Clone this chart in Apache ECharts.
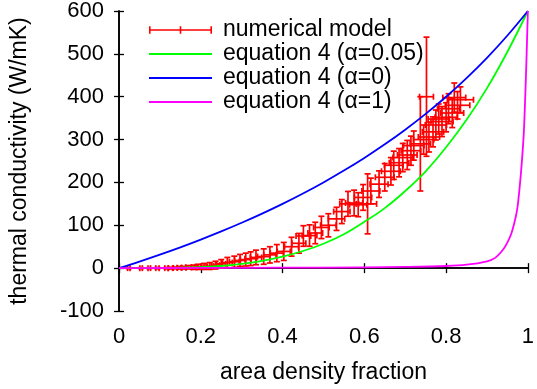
<!DOCTYPE html>
<html>
<head>
<meta charset="utf-8">
<script src="https://cdn.jsdelivr.net/npm/echarts@6/dist/echarts.min.js"></script>
<style>
  html, body { margin: 0; padding: 0; background: #fff; }
  #chart { width: 537px; height: 389px; }
</style>
</head>
<body>
<div id="chart"></div>
<script>
// numerical model: x, y, x error, y error
var modelX = [0.024, 0.054, 0.074, 0.094, 0.116, 0.126, 0.138, 0.148, 0.158, 0.17,
  0.184, 0.194, 0.208, 0.222, 0.236, 0.25, 0.265, 0.282, 0.296, 0.31,
  0.322, 0.335, 0.354, 0.369, 0.386, 0.403, 0.422, 0.44, 0.451, 0.466,
  0.48, 0.495, 0.512, 0.532, 0.545, 0.56, 0.575, 0.585, 0.597, 0.608,
  0.616, 0.636, 0.65, 0.665, 0.672, 0.685, 0.694, 0.705, 0.714, 0.721,
  0.737, 0.745, 0.752, 0.758, 0.768, 0.775, 0.782, 0.79, 0.8, 0.806,
  0.815, 0.82, 0.828, 0.835];
var modelY = [0, 0, 0, 0, 0, 0, 0.5, 1, 1, 2,
  2, 3, 4, 5, 7, 10, 13, 15, 18, 20,
  22, 25, 27, 31, 35, 39, 50, 58, 75, 76,
  82, 95, 100, 115, 132, 150, 152, 148, 165, 150,
  180, 196, 212, 226, 240, 246, 258, 264, 274, 286,
  290, 300, 400, 306, 318, 334, 348, 342, 352, 372,
  362, 398, 380, 393];
var modelXErr = [0.003, 0.003, 0.003, 0.004, 0.004, 0.005, 0.005, 0.006, 0.006, 0.007,
  0.007, 0.008, 0.008, 0.009, 0.01, 0.011, 0.012, 0.012, 0.013, 0.013,
  0.014, 0.014, 0.015, 0.015, 0.016, 0.016, 0.017, 0.017, 0.018, 0.018,
  0.018, 0.019, 0.019, 0.02, 0.02, 0.02, 0.021, 0.021, 0.021, 0.022,
  0.022, 0.022, 0.023, 0.023, 0.023, 0.024, 0.024, 0.024, 0.024, 0.025,
  0.025, 0.025, 0.017, 0.026, 0.026, 0.026, 0.026, 0.027, 0.027, 0.027,
  0.028, 0.028, 0.03, 0.032];
var modelYErr = [1, 1, 1, 1.5, 1.5, 2, 2, 3, 3, 4,
  5, 6, 7, 8, 9, 10, 12, 13, 14, 15,
  16, 17, 18, 19, 20, 21, 22, 23, 24, 25,
  25, 26, 27, 27, 28, 29, 30, 28, 30, 70,
  30, 31, 32, 32, 33, 33, 33, 34, 34, 34,
  110, 34, 139, 35, 35, 35, 35, 35, 34, 35,
  34, 34, 32, 30];

// equation 4 curves, sampled
var eqX = [0, 0.05, 0.1, 0.15, 0.2, 0.25, 0.3, 0.35, 0.4, 0.45, 0.5,
  0.55, 0.6, 0.65, 0.7, 0.75, 0.8, 0.85, 0.9, 0.95, 1];
var eqA005 = [0, 0, 0.3, 1, 2.5, 5, 10, 17, 27, 40, 57,
  79, 108, 140, 180, 226, 282, 346, 420, 505, 600];
var eqA0 = [0, 15.4, 31.6, 48.6, 66.7, 85.7, 105.9, 127.3, 150, 174.2, 200,
  227.6, 257.1, 288.9, 323.1, 360, 400, 443.5, 490.9, 542.9, 600];
var eqA1X = [0, 0.2, 0.4, 0.6, 0.7, 0.8, 0.85, 0.9, 0.92, 0.94, 0.95,
  0.96, 0.97, 0.975, 0.98, 0.985, 0.99, 0.995, 0.998, 1];
var eqA1 = [0, 0.5, 1, 2, 3, 5, 8, 16, 24, 44, 60,
  82, 118, 145, 190, 245, 315, 440, 535, 600];

var xTicks = [0, 0.2, 0.4, 0.6, 0.8, 1];

var font = 'Liberation Sans';
var chart = echarts.init(document.getElementById('chart'));

function pairs(xs, ys) {
  var out = [];
  for (var i = 0; i < xs.length; i++) out.push([xs[i], ys[i]]);
  return out;
}

var modelData = [];
for (var i = 0; i < modelX.length; i++) {
  modelData.push([modelX[i], modelY[i], modelXErr[i], modelYErr[i]]);
}

function errBar(params, api) {
  var x = api.value(0), y = api.value(1), dx = api.value(2), dy = api.value(3);
  var c = api.coord([x, y]);
  var l = api.coord([x - dx, y])[0];
  var r = api.coord([x + dx, y])[0];
  var t = api.coord([x, y + dy])[1];
  var b = api.coord([x, y - dy])[1];
  var cap = 3;
  var st = { stroke: '#ff0000', lineWidth: 1.7 };
  function seg(x1, y1, x2, y2) {
    return { type: 'line', shape: { x1: x1, y1: y1, x2: x2, y2: y2 }, style: st };
  }
  return {
    type: 'group',
    children: [
      seg(l, c[1], r, c[1]),
      seg(l, c[1] - cap, l, c[1] + cap),
      seg(r, c[1] - cap, r, c[1] + cap),
      seg(c[0], t, c[0], b),
      seg(c[0] - cap, t, c[0] + cap, t),
      seg(c[0] - cap, b, c[0] + cap, b)
    ]
  };
}

var lineIcon = 'path://M0,0h63v2h-63z';
var barIcon = 'path://M0,3h63v1.6h-63z M0,0h1.6v7.6h-1.6z M30.7,0h1.6v7.6h-1.6z M61.4,0h1.6v7.6h-1.6z';

var axisLine = { show: true, lineStyle: { color: '#000', width: 1.6 } };
var tick = { show: true, inside: true, length: 5, lineStyle: { color: '#000', width: 1.3 } };

var option = {
  animation: false,
  backgroundColor: '#fff',
  grid: { left: 116, right: 9, top: 9, bottom: 77, containLabel: false },
  legend: {
    orient: 'vertical',
    left: 144,
    top: 13,
    itemWidth: 63,
    itemHeight: 8,
    itemGap: 0,
    selectedMode: false,
    itemStyle: { borderWidth: 0 },
    textStyle: { fontFamily: font, fontSize: 23, color: '#000', lineHeight: 24, padding: [0, 0, 0, 6] },
    data: [
      { name: 'numerical model', icon: barIcon },
      { name: 'equation 4 (α=0.05)', icon: lineIcon },
      { name: 'equation 4 (α=0)', icon: lineIcon },
      { name: 'equation 4 (α=1)', icon: lineIcon }
    ]
  },
  xAxis: [{
    type: 'value', min: 0, max: 1, interval: 0.2,
    name: 'area density fraction', nameLocation: 'middle', nameGap: 50,
    nameTextStyle: { fontFamily: font, fontSize: 23, color: '#000' },
    axisLine: axisLine, axisTick: tick, splitLine: { show: false },
    axisLabel: {
      fontFamily: font, fontSize: 22, color: '#000', margin: 15,
      formatter: function (v) { return xTicks.indexOf(Math.round(v * 10) / 10) >= 0 ? String(Math.round(v * 10) / 10) : ''; }
    }
  }, {
    type: 'value', position: 'top', min: 0, max: 1, interval: 0.2,
    axisLine: axisLine, axisTick: tick, axisLabel: { show: false }, splitLine: { show: false }
  }],
  yAxis: [{
    type: 'value', min: -100, max: 600, interval: 100,
    name: 'thermal conductivity (W/mK)', nameLocation: 'middle', nameGap: 88,
    nameTextStyle: { fontFamily: font, fontSize: 23, color: '#000' },
    axisLine: axisLine, axisTick: tick, splitLine: { show: false },
    axisLabel: { fontFamily: font, fontSize: 22, color: '#000', margin: 15 }
  }, {
    type: 'value', position: 'right', min: -100, max: 600, interval: 100,
    axisLine: axisLine, axisTick: tick, axisLabel: { show: false }, splitLine: { show: false }
  }],
  series: [
    {
      name: 'numerical model', type: 'custom', renderItem: errBar,
      itemStyle: { color: '#ff0000' }, data: modelData, clip: true
    },
    {
      name: 'equation 4 (α=0.05)', type: 'line', data: pairs(eqX, eqA005),
      showSymbol: false, smooth: 0.4, color: '#00ff00',
      lineStyle: { color: '#00ff00', width: 1.8 }
    },
    {
      name: 'equation 4 (α=0)', type: 'line', data: pairs(eqX, eqA0),
      showSymbol: false, smooth: 0.4, color: '#0000ff',
      lineStyle: { color: '#0000ff', width: 1.8 }
    },
    {
      name: 'equation 4 (α=1)', type: 'line', data: pairs(eqA1X, eqA1),
      showSymbol: false, smooth: 0.3, color: '#ff00ff',
      lineStyle: { color: '#ff00ff', width: 1.8 }
    }
  ]
};

chart.setOption(option);
window.addEventListener('resize', chart.resize);
</script>
</body>
</html>
